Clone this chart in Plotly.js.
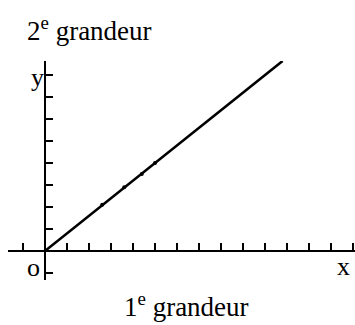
<!DOCTYPE html>
<html>
<head>
<meta charset="utf-8">
<script src="https://cdn.plot.ly/plotly-3.0.1.min.js"></script>
<style>
  html, body { margin: 0; padding: 0; background: #fff; }
  #chart { width: 355px; height: 325px; }
</style>
</head>
<body>
<div id="chart"></div>
<script>
let chart = document.getElementById("chart");

// straight line through the origin (1e grandeur -> 2e grandeur)
let lineX = [0, 10.8];
let lineY = [0, 8.64];

// measured points sitting on the line
let pointX = [2.6, 3.6, 4.4, 5.0];
let pointY = [2.1, 2.9, 3.5, 4.0];

// labels
let xTitle = '1<sup style="font-size:90%">e</sup> grandeur';
let yTitle = '2<sup style="font-size:90%">e</sup> grandeur';
let xName = "x";
let yName = "y";
let originName = "o";

function makePlot(plotDiv) {
  let W = 355, H = 325;
  let px = v => v / W;
  let py = v => 1 - v / H;
  let serif = "Liberation Serif";

  let lineTrace = {
    x: lineX,
    y: lineY,
    mode: "lines",
    line: { color: "#000", width: 2.5 },
    hoverinfo: "skip"
  };

  let pointTrace = {
    x: pointX,
    y: pointY,
    mode: "markers",
    marker: { color: "#000", size: 4 },
    hoverinfo: "skip"
  };

  let layout = {
    width: W,
    height: H,
    margin: { l: 0, r: 0, t: 0, b: 0 },
    paper_bgcolor: "#fff",
    plot_bgcolor: "#fff",
    showlegend: false,
    font: { family: serif, color: "#000" },
    xaxis: {
      domain: [px(8), 1],
      range: [-37 / 22, 310 / 22],
      anchor: "free",
      position: 1 - 251 / H,
      showline: true,
      linecolor: "#000",
      linewidth: 2,
      ticks: "inside",
      ticklen: 7,
      tickwidth: 2,
      tickcolor: "#000",
      dtick: 1,
      tick0: 0,
      showticklabels: false,
      showgrid: false,
      zeroline: false
    },
    yaxis: {
      domain: [py(280), py(61)],
      range: [-29 / 22, 190 / 22],
      anchor: "free",
      position: px(45),
      showline: true,
      linecolor: "#000",
      linewidth: 2,
      ticks: "inside",
      ticklen: 7,
      tickwidth: 2,
      tickcolor: "#000",
      dtick: 1,
      tick0: 0,
      showticklabels: false,
      showgrid: false,
      zeroline: false
    },
    annotations: [
      {
        xref: "paper", yref: "paper",
        x: px(25), y: py(29),
        xanchor: "left", yanchor: "middle",
        text: yTitle, showarrow: false,
        font: { family: serif, size: 27 }
      },
      {
        xref: "paper", yref: "paper",
        x: px(122), y: py(305),
        xanchor: "left", yanchor: "middle",
        text: xTitle, showarrow: false,
        font: { family: serif, size: 27 }
      },
      {
        xref: "paper", yref: "paper",
        x: px(37), y: py(77),
        xanchor: "center", yanchor: "middle",
        text: yName, showarrow: false,
        font: { family: serif, size: 26 }
      },
      {
        xref: "paper", yref: "paper",
        x: px(343), y: py(266),
        xanchor: "center", yanchor: "middle",
        text: xName, showarrow: false,
        font: { family: serif, size: 26 }
      },
      {
        xref: "paper", yref: "paper",
        x: px(33), y: py(267),
        xanchor: "center", yanchor: "middle",
        text: originName, showarrow: false,
        font: { family: serif, size: 26 }
      }
    ]
  };

  Plotly.newPlot(plotDiv, [lineTrace, pointTrace], layout, { staticPlot: true });
}

makePlot(chart);
</script>
</body>
</html>
